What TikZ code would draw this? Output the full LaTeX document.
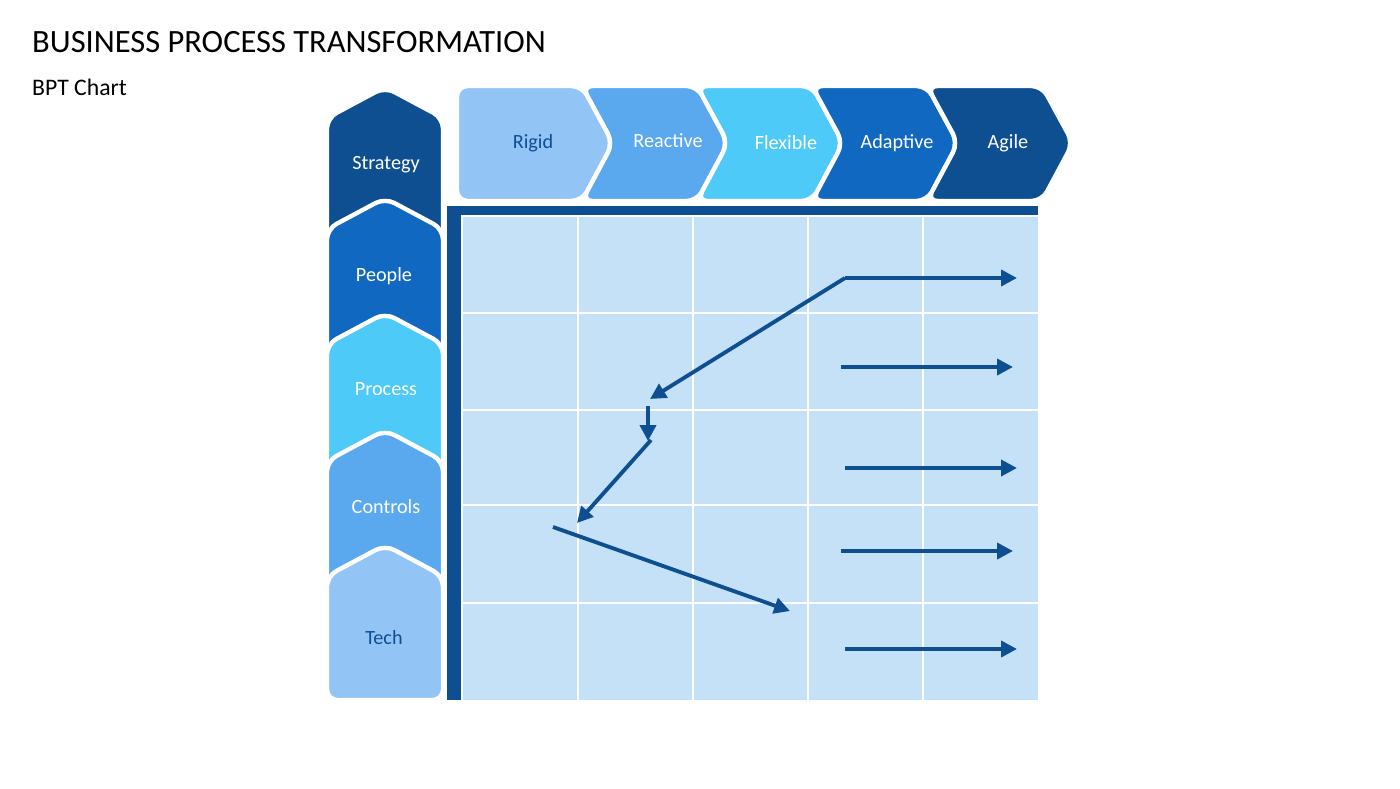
\documentclass[tikz,border=0pt]{standalone}
\usepackage{fontspec}
\setmainfont{Carlito}
\usetikzlibrary{arrows.meta}
\definecolor{bptA}{HTML}{0E4F92}
\definecolor{bptB}{HTML}{1168C0}
\definecolor{bptC}{HTML}{4DCAF8}
\definecolor{bptD}{HTML}{5AA8EE}
\definecolor{bptE}{HTML}{92C4F5}
\definecolor{bptGrid}{HTML}{C5E1F8}
\tikzset{tile/.style={draw=white,line width=2.5pt,rounded corners=6pt},
  lbl/.style={font=\fontsize{11.5}{13}\selectfont,text=white},
  flow/.style={bptA,line width=2.2pt,-{Triangle[length=9pt,width=9pt]}}}
\begin{document}
\begin{tikzpicture}[x=0.02cm,y=-0.02cm]
\useasboundingbox (0,0) rectangle (1400,788);
\node[anchor=west,font=\fontsize{18.5}{20}\selectfont] (title) at (26,42) {BUSINESS PROCESS TRANSFORMATION};
\node[anchor=west,font=\fontsize{13.5}{15}\selectfont] (sub) at (26,87) {BPT Chart};
% left column
\foreach \top/\bot/\col in {87/300/bptA,198/420/bptB,313/540/bptC,430/660/bptD,545/700/bptE}
  \draw[tile,fill=\col] (327,\top+31) -- (385,\top) -- (443,\top+31) -- (443,\bot) -- (327,\bot) -- cycle;
\node[lbl] (strategy) at (386,165) {Strategy};
\node[lbl] (people) at (384,276) {People};
\node[lbl] (process) at (386,389) {Process};
\node[lbl] (controls) at (386,507) {Controls};
\node[lbl,text=bptA] (tech) at (384,638) {Tech};
% top chevrons
\draw[tile,fill=bptE] (457,86) -- (582,86) -- (613,143) -- (582,201) -- (457,201) -- cycle;
\foreach \x/\col in {582/bptD,697/bptC,812/bptB,927/bptA}
  \draw[tile,fill=\col] (\x,86) -- (\x+115,86) -- (\x+146,143) -- (\x+115,201) -- (\x,201) -- (\x+31,143) -- cycle;
\node[lbl,text=bptA] (rigid) at (533,143) {Rigid};
\node[lbl] (reactive) at (668,141) {Reactive};
\node[lbl] (flexible) at (786,143) {Flexible};
\node[lbl] (adaptive) at (897,143) {Adaptive};
\node[lbl] (agile) at (1008,143) {Agile};
% grid
\fill[bptA] (447,206) rectangle (1038,215);
\fill[bptA] (447,206) rectangle (461,700);
\fill[bptGrid] (463,217) rectangle (1038,700);
\foreach \x in {578,693,808,923} \draw[white,line width=1.2pt] (\x,217) -- (\x,700);
\foreach \y in {313,410,505,603} \draw[white,line width=1.2pt] (463,\y) -- (1038,\y);
% arrows
\foreach \y/\a in {278/845,367/841,468/845,551/841,649/845}
  \draw[flow] (\a,\y) -- (\a+172,\y);
\coordinate (p1) at (845,278);
\coordinate (p2) at (650,399);
\coordinate (p3) at (648,406);
\coordinate (p4) at (648,441);
\coordinate (p5) at (651,440);
\coordinate (p6) at (577,523);
\coordinate (p7) at (553,527);
\coordinate (p8) at (790,611);
\draw[flow] (p1) -- (p2);
\draw[flow] (p3) -- (p4);
\draw[flow] (p5) -- (p6);
\draw[flow] (p7) -- (p8);
\end{tikzpicture}
\end{document}
